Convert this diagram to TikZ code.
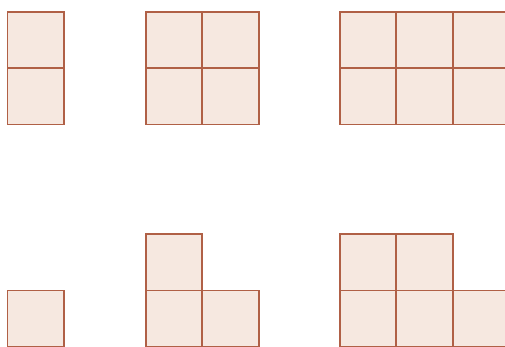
\documentclass[tikz,border=0pt]{standalone}
\definecolor{cellfill}{RGB}{246,232,224}
\definecolor{cellline}{RGB}{176,96,70}
\tikzset{cell/.style={fill=cellfill,draw=cellline,line width=1.8pt}}
\newcommand{\cellat}[2]{\draw[cell] (#1,#2) rectangle ++(56.3,56.3);}
\begin{document}
\begin{tikzpicture}[x=1pt,y=-1pt]
\useasboundingbox (0,0) rectangle (505,347);
% top row
\cellat{7.5}{12}\cellat{7.5}{68.3}
\cellat{146}{12}\cellat{202.3}{12}\cellat{146}{68.3}\cellat{202.3}{68.3}
\cellat{340}{12}\cellat{396.3}{12}\cellat{452.6}{12}
\cellat{340}{68.3}\cellat{396.3}{68.3}\cellat{452.6}{68.3}
% bottom row
\cellat{7.5}{290.5}
\cellat{146}{234.2}\cellat{146}{290.5}\cellat{202.3}{290.5}
\cellat{340}{234.2}\cellat{396.3}{234.2}
\cellat{340}{290.5}\cellat{396.3}{290.5}\cellat{452.6}{290.5}
\end{tikzpicture}
\end{document}
